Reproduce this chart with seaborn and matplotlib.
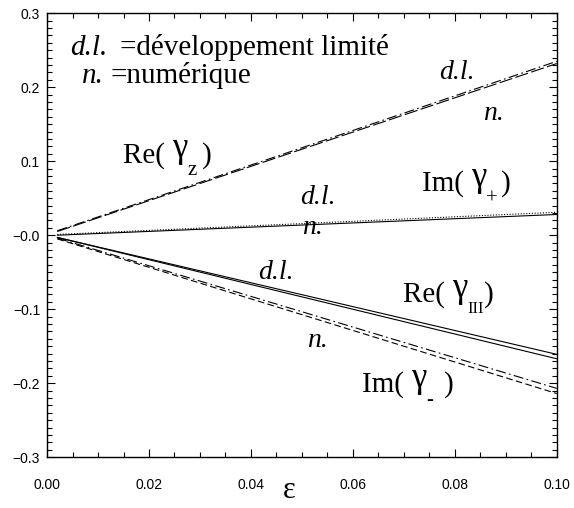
import seaborn as sns
import matplotlib.pyplot as plt
import matplotlib.ticker as mticker
import pandas as pd

# Values (epsilon from 0.002 to 0.1, straight lines)
eps = [0.002, 0.100]
re_gz_dl = [0.006, 0.235]
re_gz_n = [0.005, 0.232]
im_gp_dl = [0.001, 0.031]
im_gp_n = [0.000, 0.028]
re_g3_dl = [-0.003, -0.161]
re_g3_n = [-0.003, -0.167]
im_gm_dl = [-0.004, -0.207]
im_gm_n = [-0.005, -0.214]

series_names = ['re_gz_dl', 're_gz_n', 'im_gp_dl', 'im_gp_n',
                're_g3_dl', 're_g3_n', 'im_gm_dl', 'im_gm_n']
series_vals = [re_gz_dl, re_gz_n, im_gp_dl, im_gp_n,
               re_g3_dl, re_g3_n, im_gm_dl, im_gm_n]

x_ticks = [0.00, 0.02, 0.04, 0.06, 0.08, 0.10]
x_tick_labels = ['0.00', '0.02', '0.04', '0.06', '0.08', '0.10']
y_ticks = [-0.3, -0.2, -0.1, 0.0, 0.1, 0.2, 0.3]
y_tick_labels = ['\u22120.3', '\u22120.2', '\u22120.1', '\u22120.0', '0.1', '0.2', '0.3']

# Build a long table for seaborn
rows = []
for name, vals in zip(series_names, series_vals):
    for e, v in zip(eps, vals):
        rows.append({'eps': e, 'val': v, 'series': name})
df = pd.DataFrame(rows)

dash_styles = {
    're_gz_dl': (9, 3, 1.5, 3),
    're_gz_n': (12, 3),
    'im_gp_dl': (1, 1.5),
    'im_gp_n': '',
    're_g3_dl': '',
    're_g3_n': '',
    'im_gm_dl': (9, 3, 1.5, 3),
    'im_gm_n': (6, 3),
}

sns.set_style('ticks')
plt.rcParams['font.family'] = ['Liberation Serif', 'DejaVu Serif']
plt.rcParams['text.color'] = 'black'
plt.rcParams['axes.labelcolor'] = 'black'
plt.rcParams['xtick.color'] = 'black'
plt.rcParams['ytick.color'] = 'black'

fig = plt.figure(figsize=(5.74, 5.08), dpi=100)
ax = fig.add_axes([0.082, 0.100, 0.888, 0.874])

sns.lineplot(data=df, x='eps', y='val', hue='series', style='series',
             palette={s: 'black' for s in series_names}, dashes=dash_styles,
             linewidth=0.8, legend=False, ax=ax)

ax.set_xlim(0, 0.1)
ax.set_ylim(-0.3, 0.3)

ax.set_xticks(x_ticks)
ax.set_xticklabels(x_tick_labels, family='Liberation Sans', fontsize=10)
ax.set_yticks(y_ticks)
ax.set_yticklabels(y_tick_labels, family='Liberation Sans', fontsize=10)
ax.xaxis.set_minor_locator(mticker.MultipleLocator(0.005))
ax.yaxis.set_minor_locator(mticker.MultipleLocator(0.01))
ax.tick_params(which='both', direction='in', top=True, right=True, color='black')
ax.tick_params(which='major', length=6, width=0.8)
ax.tick_params(which='minor', length=3.5, width=0.8)
ax.tick_params(axis='x', pad=15)
ax.tick_params(axis='y', pad=5)
for sp in ax.spines.values():
    sp.set_color('black')
    sp.set_linewidth(1.0)

ax.set_xlabel('\u03b5', fontsize=22, va='center')
ax.xaxis.set_label_coords(0.476, -0.074)
ax.set_ylabel('')

# Header
fs = 21
ax.text(0.0045, 0.244, 'd.l.', style='italic', fontsize=fs, va='baseline')
ax.text(0.0143, 0.244, '=d\u00e9veloppement limit\u00e9', fontsize=fs, va='baseline')
ax.text(0.0069, 0.206, 'n.', style='italic', fontsize=fs, va='baseline')
ax.text(0.0124, 0.206, '=num\u00e9rique', fontsize=fs, va='baseline')

renderer = fig.canvas.get_renderer()
pt = 72.0 / fig.dpi


# IDL style label: "Re( " + tall gamma + dropped subscript + closing bracket
def sub_label(x, y, main, sub, gap, fs_sub=15, drop=13):
    t = ax.text(x, y, main, fontsize=fs, va='baseline')
    x0 = ax.transData.transform((x, y))[0]
    w = t.get_window_extent(renderer).x1 - x0
    g = ax.annotate('\u03b3', xy=(x, y), xytext=(w * pt, 5 * pt),
                    textcoords='offset points', fontsize=25, va='baseline')
    wg = g.get_window_extent(renderer).x1 - x0
    s = ax.annotate(sub, xy=(x, y), xytext=(wg * pt, -drop * pt),
                    textcoords='offset points', fontsize=fs_sub, va='baseline')
    ws = s.get_window_extent(renderer).x1 - x0
    ax.annotate(')', xy=(x, y), xytext=((ws + gap) * pt, 0),
                textcoords='offset points', fontsize=fs, va='baseline')


sub_label(0.0149, 0.0986, 'Re( ', 'z', 5)
sub_label(0.0735, 0.0600, 'Im( ', '+', 3)
sub_label(0.0698, -0.0899, 'Re( ', 'III', 0, fs_sub=12, drop=11)
sub_label(0.0618, -0.2115, 'Im( ', '-', 11)

# d.l. / n. markers next to the curve pairs
fl = 20
ax.text(0.0804, 0.220, 'd.l.', style='italic', fontsize=fl, ha='center', va='center')
ax.text(0.0875, 0.165, 'n.', style='italic', fontsize=fl, ha='center', va='center')
ax.text(0.0531, 0.051, 'd.l.', style='italic', fontsize=fl, ha='center', va='center')
ax.text(0.0520, 0.011, 'n.', style='italic', fontsize=fl, ha='center', va='center')
ax.text(0.0450, -0.050, 'd.l.', style='italic', fontsize=fl, ha='center', va='center')
ax.text(0.0530, -0.142, 'n.', style='italic', fontsize=fl, ha='center', va='center')

fig.savefig('out.png', dpi=100)
